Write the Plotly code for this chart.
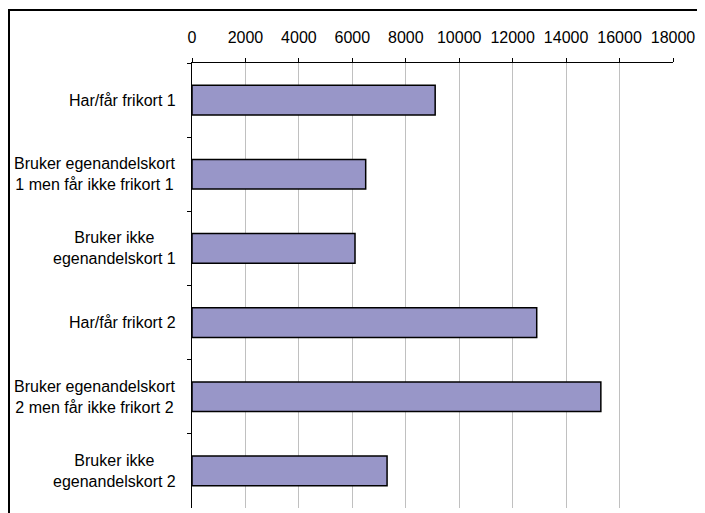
import plotly.graph_objects as go

categories = [
    "Har/får frikort 1",
    "Bruker egenandelskort<br>1 men får ikke frikort 1",
    "Bruker ikke<br>egenandelskort 1",
    "Har/får frikort 2",
    "Bruker egenandelskort<br>2 men får ikke frikort 2",
    "Bruker ikke<br>egenandelskort 2",
]
values = [9100, 6500, 6100, 12900, 15300, 7300]
x_ticks = [0, 2000, 4000, 6000, 8000, 10000, 12000, 14000, 16000, 18000]

FONT = "Liberation Sans, Arial, sans-serif"

# page body has an 8px margin, so the plot area is placed 8px up/left
L, T = 184, 55
PW, PH = 481, 445

fig = go.Figure()
fig.add_trace(go.Bar(
    x=values,
    y=categories,
    orientation="h",
    width=0.4,
    marker=dict(color="#9896C8", line=dict(color="#000000", width=1.5)),
    hoverinfo="skip",
))

for c in categories:
    fig.add_annotation(
        x=-14 / PW, xref="paper", y=c, yref="y",
        text=c, showarrow=False, xanchor="right", yanchor="middle",
        align="center", font=dict(family=FONT, size=16, color="#000000"),
    )

fig.update_layout(
    width=705, height=513,
    margin=dict(l=L, r=705 - L - PW, t=T, b=513 - T - PH),
    paper_bgcolor="white", plot_bgcolor="white",
    showlegend=False,
    font=dict(family=FONT, size=16, color="#000000"),
    xaxis=dict(
        side="top", range=[0, 18000], tickvals=x_ticks,
        ticktext=[str(v) for v in x_ticks],
        showgrid=True, gridcolor="#C0C0C0", gridwidth=1,
        showline=True, linecolor="#000000", linewidth=1,
        ticks="outside", ticklen=4, tickcolor="#000000",
        ticklabelstandoff=9, zeroline=False,
        tickfont=dict(family=FONT, size=16, color="#000000"),
    ),
    yaxis=dict(
        autorange="reversed", showticklabels=False,
        showgrid=False, showline=True, linecolor="#000000", linewidth=1,
        ticks="outside", ticklen=4, tickcolor="#000000",
        tickson="boundaries",
    ),
    shapes=[dict(
        type="rect", xref="paper", yref="paper",
        x0=(1 - L) / PW, x1=1.2,
        y0=-0.1, y1=1 + (T - 2) / PH,
        line=dict(color="#000000", width=2), fillcolor="rgba(0,0,0,0)",
        layer="below",
    )],
)

fig.write_html("out.html")
